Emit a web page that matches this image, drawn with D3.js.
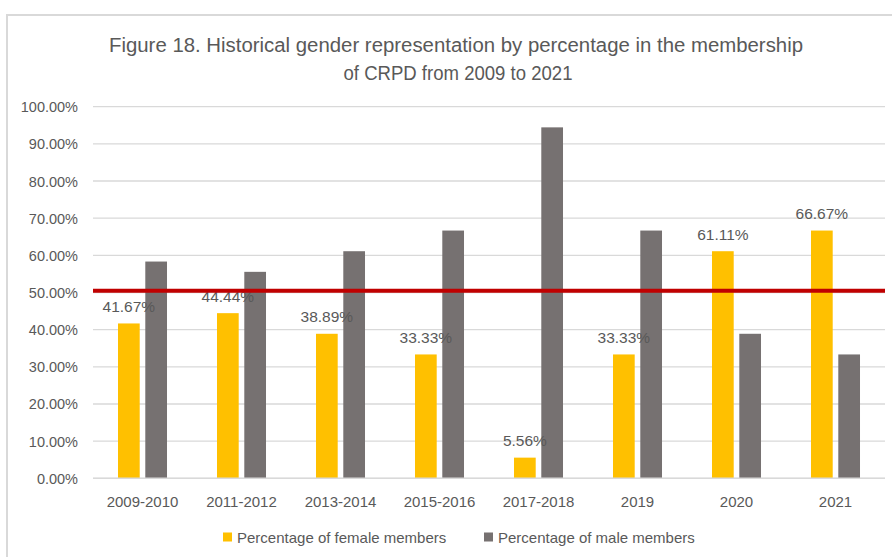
<!DOCTYPE html>
<html>
<head>
<meta charset="utf-8">
<script src="https://cdn.jsdelivr.net/npm/d3@7"></script>
<style>
  html, body { margin: 0; padding: 0; background: #fff; }
  svg { display: block; }
  text { font-family: "Liberation Sans", Arial, sans-serif; fill: #595959; }
</style>
</head>
<body>
<svg id="chart" width="892" height="557"></svg>
<script>
const categories = ["2009-2010", "2011-2012", "2013-2014", "2015-2016", "2017-2018", "2019", "2020", "2021"];
const femaleValues = [0.4167, 0.4444, 0.3889, 0.3333, 0.0556, 0.3333, 0.6111, 0.6667];
const maleValues = [0.5833, 0.5556, 0.6111, 0.6667, 0.9444, 0.6667, 0.3889, 0.3333];
const seriesNames = ["Percentage of female members", "Percentage of male members"];
const seriesColors = ["#FFC000", "#767171"];
const yTicks = [0, 0.1, 0.2, 0.3, 0.4, 0.5, 0.6, 0.7, 0.8, 0.9, 1.0];
const thresholdValue = 0.505;
const titleLines = ["Figure 18. Historical gender representation by percentage in the membership", "of CRPD from 2009 to 2021"];

const svg = d3.select("#chart");

// chart area border (cropped)
svg.append("path")
  .attr("d", "M7,557 L7,15 L892,15")
  .attr("fill", "none")
  .attr("stroke", "#d9d9d9")
  .attr("stroke-width", 2);

const plot = { left: 93, right: 885, top: 106.7, bottom: 478.3 };

const x0 = d3.scaleBand()
  .domain(categories)
  .range([plot.left, plot.right])
  .paddingInner(0.505)
  .paddingOuter(0.2525);

const x1 = d3.scaleBand()
  .domain(seriesNames)
  .range([0, x0.bandwidth()])
  .paddingInner(0.205)
  .paddingOuter(0);

const y = d3.scaleLinear().domain([0, 1]).range([plot.bottom, plot.top]);

// gridlines
svg.append("g").selectAll("line")
  .data(yTicks)
  .join("line")
  .attr("x1", plot.left).attr("x2", plot.right)
  .attr("y1", d => y(d)).attr("y2", d => y(d))
  .attr("stroke", "#d9d9d9")
  .attr("stroke-width", 1.3);

// y tick labels
const fmt = d => (d * 100).toFixed(2) + "%";
svg.append("g").selectAll("text")
  .data(yTicks)
  .join("text")
  .attr("x", 78)
  .attr("y", d => y(d) + 5.5)
  .attr("text-anchor", "end")
  .attr("font-size", 14.5)
  .text(fmt);

// bars
const rows = categories.map((c, i) => ({ cat: c, vals: [femaleValues[i], maleValues[i]] }));
const groups = svg.append("g").selectAll("g")
  .data(rows)
  .join("g")
  .attr("transform", d => `translate(${x0(d.cat)},0)`);

groups.selectAll("rect")
  .data(d => d.vals.map((v, j) => ({ v, s: seriesNames[j], j })))
  .join("rect")
  .attr("x", d => x1(d.s))
  .attr("width", x1.bandwidth())
  .attr("y", d => y(d.v))
  .attr("height", d => y(0) - y(d.v))
  .attr("fill", d => seriesColors[d.j]);

// x axis line
svg.append("line")
  .attr("x1", plot.left).attr("x2", plot.right)
  .attr("y1", y(0)).attr("y2", y(0))
  .attr("stroke", "#d9d9d9").attr("stroke-width", 1.5);

// female data labels
groups.append("text")
  .attr("x", x1(seriesNames[0]) + x1.bandwidth() / 2)
  .attr("y", (d) => y(d.vals[0]) - 11.5)
  .attr("text-anchor", "middle")
  .attr("font-size", 15.5)
  .text(d => fmt(d.vals[0]));

// threshold line
svg.append("line")
  .attr("x1", plot.left).attr("x2", plot.right)
  .attr("y1", y(thresholdValue)).attr("y2", y(thresholdValue))
  .attr("stroke", "#C00000").attr("stroke-width", 4);

// x labels
svg.append("g").selectAll("text")
  .data(categories)
  .join("text")
  .attr("x", d => x0(d) + x0.bandwidth() / 2)
  .attr("y", 507)
  .attr("text-anchor", "middle")
  .attr("font-size", 15)
  .text(d => d);

// title
svg.append("text")
  .attr("x", 456).attr("y", 52)
  .attr("text-anchor", "middle")
  .attr("font-size", 20)
  .attr("textLength", 694)
  .attr("lengthAdjust", "spacingAndGlyphs")
  .text(titleLines[0]);
svg.append("text")
  .attr("x", 458).attr("y", 79.5)
  .attr("text-anchor", "middle")
  .attr("font-size", 20)
  .attr("textLength", 229)
  .attr("lengthAdjust", "spacingAndGlyphs")
  .text(titleLines[1]);

// legend
const legendPos = [{ sx: 223, tx: 237 }, { sx: 484, tx: 498 }];
const lg = svg.append("g").selectAll("g")
  .data(seriesNames)
  .join("g");
lg.append("rect")
  .attr("x", (d, i) => legendPos[i].sx)
  .attr("y", 532.5)
  .attr("width", 9).attr("height", 9)
  .attr("fill", (d, i) => seriesColors[i]);
lg.append("text")
  .attr("x", (d, i) => legendPos[i].tx)
  .attr("y", 542.5)
  .attr("font-size", 15)
  .text(d => d);
</script>
</body>
</html>
